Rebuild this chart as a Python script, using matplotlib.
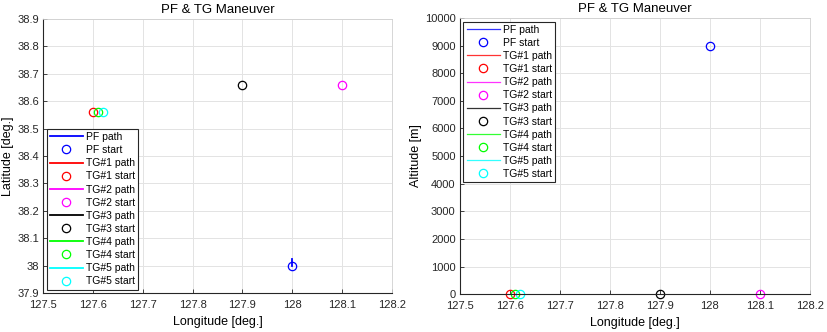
import matplotlib
matplotlib.use("Agg")
import matplotlib.pyplot as plt

plt.rcParams['font.family'] = ['Liberation Sans', 'DejaVu Sans']

# Platform (PF) and target (TG) tracks: longitude, latitude, altitude
names = ["PF", "TG#1", "TG#2", "TG#3", "TG#4", "TG#5"]
colors = ["#0000ff", "#ff0000", "#ff00ff", "#000000", "#00ff00", "#00ffff"]
lon_paths = [[128.0, 128.0], [127.60, 127.60], [128.10, 128.10],
             [127.90, 127.90], [127.61, 127.61], [127.62, 127.62]]
lat_paths = [[38.0, 38.025], [38.56, 38.56], [38.66, 38.66],
             [38.66, 38.66], [38.56, 38.56], [38.56, 38.56]]
alt_paths = [[9000, 9000], [0, 0], [0, 0], [0, 0], [0, 0], [0, 0]]

lon_ticks = [127.5, 127.6, 127.7, 127.8, 127.9, 128, 128.1, 128.2]
lat_ticks = [37.9, 38, 38.1, 38.2, 38.3, 38.4, 38.5, 38.6, 38.7, 38.8, 38.9]
alt_ticks = list(range(0, 10001, 1000))

fig = plt.figure(figsize=(8.27, 3.32), dpi=100)
ax1 = fig.add_axes([0.052, 0.117, 0.422, 0.826])
ax2 = fig.add_axes([0.556, 0.114, 0.423, 0.832])


def style(ax):
    ax.grid(True, color="#e3e3e3", linewidth=0.7)
    ax.set_axisbelow(True)
    for side in ("top", "right"):
        ax.spines[side].set_color("#d0d0d0")
        ax.spines[side].set_linewidth(0.6)
    for side in ("left", "bottom"):
        ax.spines[side].set_color("#262626")
        ax.spines[side].set_linewidth(0.8)
    ax.tick_params(direction="in", length=3, width=0.6, colors="#262626",
                   labelsize=8, labelcolor="#262626")
    ax.tick_params(axis="y", pad=3)
    ax.tick_params(axis="x", pad=5)
    ax.set_title("PF & TG Maneuver", fontsize=9.5, pad=4)


def add_legend(ax, loc):
    leg = ax.legend(loc=loc, fontsize=7.5, handlelength=3.2,
                    borderaxespad=0.35, labelspacing=0.3, handletextpad=0.3,
                    fancybox=False, edgecolor="#262626", framealpha=1,
                    borderpad=0.3)
    leg.get_frame().set_linewidth(0.8)
    return leg


for name, c, lo, la in zip(names, colors, lon_paths, lat_paths):
    ax1.plot(lo, la, color=c, linewidth=1.3, label=f"{name} path")
    ax1.plot(lo[0], la[0], "o", mfc="none", mec=c, ms=6, mew=0.9,
             label=f"{name} start")
ax1.set_xlim(127.5, 128.2)
ax1.set_ylim(37.9, 38.9)
ax1.set_xticks(lon_ticks)
ax1.set_xticklabels([f"{v:g}" for v in lon_ticks])
ax1.set_yticks(lat_ticks)
ax1.set_yticklabels([f"{v:g}" for v in lat_ticks])
ax1.set_xlabel("Longitude [deg.]", fontsize=9, labelpad=4)
ax1.set_ylabel("Latitude [deg.]", fontsize=9, labelpad=2)
style(ax1)
add_legend(ax1, "lower left")

for name, c, lo, al in zip(names, colors, lon_paths, alt_paths):
    ax2.plot(lo, al, color=c, linewidth=0.9, alpha=0.8, label=f"{name} path")
    ax2.plot(lo[0], al[0], "o", mfc="none", mec=c, ms=6, mew=0.9,
             label=f"{name} start", clip_on=False)
ax2.set_xlim(127.5, 128.2)
ax2.set_ylim(0, 10000)
ax2.set_xticks(lon_ticks)
ax2.set_xticklabels([f"{v:g}" for v in lon_ticks])
ax2.set_yticks(alt_ticks)
ax2.set_xlabel("Longitude [deg.]", fontsize=9, labelpad=4)
ax2.set_ylabel("Altitude [m]", fontsize=9, labelpad=2)
style(ax2)
add_legend(ax2, "upper left")

fig.savefig("out.png", dpi=100)
